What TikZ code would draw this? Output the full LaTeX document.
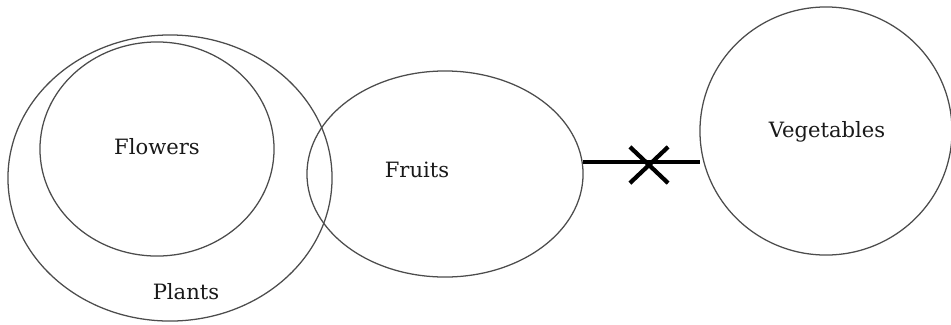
\documentclass[tikz,border=0pt]{standalone}
\usepackage{fontspec}
\setmainfont{DejaVu Serif}
\usetikzlibrary{shapes.geometric,shapes.misc}

\tikzset{
	setline/.style={draw=black!70,line width=0.9pt,ellipse,inner sep=0pt,outer sep=0pt},
	setname/.style={font=\fontsize{15}{17}\selectfont,text=black!90}
}

\begin{document}
\begin{tikzpicture}[x=0.025cm,y=-0.025cm]
\useasboundingbox (0,0) rectangle (951,324);
\node[setline,minimum width=8.1cm,minimum height=7.15cm] (plants) at (170,178) {};
\node[setline,minimum width=5.85cm,minimum height=5.35cm] (flowers) at (157,149) {};
\node[setline,minimum width=6.9cm,minimum height=5.15cm] (fruits) at (445,174) {};
\node[setline,minimum width=6.3cm,minimum height=6.2cm] (vegetables) at (826,131) {};
\node[setname] (flowerstext) at (157,147) {Flowers};
\node[setname] (plantstext) at (186,292) {Plants};
\node[setname] (fruitstext) at (417,170) {Fruits};
\node[setname] (vegetablestext) at (827,132) {Vegetables};
\coordinate (link) at (649,162);
\draw [line width=2.2pt] (link -| fruits.east)--(link -| vegetables.west);
\node[cross out,draw,line width=3pt,minimum width=0.85cm,minimum height=0.8cm,inner sep=0pt] (nolink) at (649,165) {};
\end{tikzpicture}
\end{document}
